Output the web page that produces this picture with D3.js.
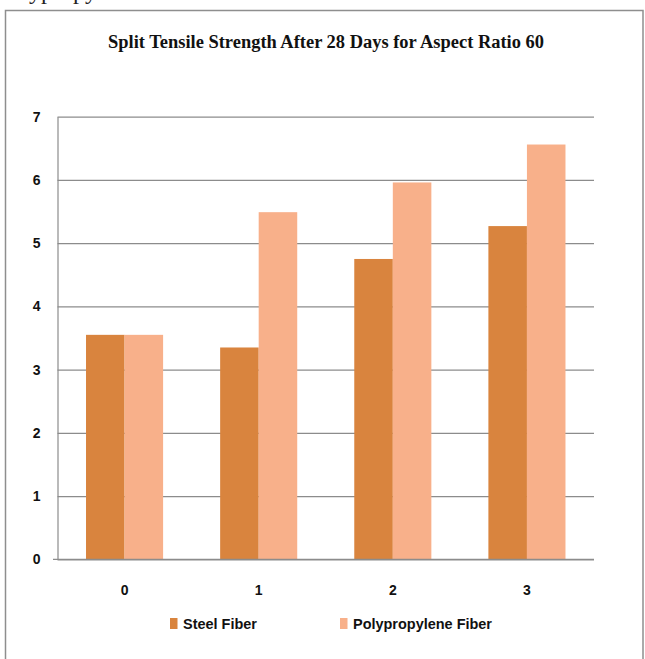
<!DOCTYPE html>
<html><head><meta charset="utf-8">
<script src="https://cdn.jsdelivr.net/npm/d3@7"></script>
<style>html,body{margin:0;padding:0;background:#fff;overflow:hidden}</style>
</head><body>
<svg id="c" width="645" height="659"></svg>
<script>
const categories = ["0", "1", "2", "3"];
const seriesNames = ["Steel Fiber", "Polypropylene Fiber"];
const steelFiber = [3.55, 3.35, 4.75, 5.27];
const polypropyleneFiber = [3.55, 5.49, 5.96, 6.56];
const yTicks = [0, 1, 2, 3, 4, 5, 6, 7];
const title = "Split Tensile Strength After 28 Days for Aspect Ratio 60";
const colors = ["#D9843E", "#F8B08A"];

const svg = d3.select("#c");
const m = {left: 57.5, right: 594, top: 116.7, bottom: 559.3};

// cropped text from above the chart (cut off in the reference too)
svg.append("text").attr("x", -3).attr("y", -1)
  .attr("font-family", "Liberation Serif").attr("font-size", 24)
  .attr("fill", "#222").text("Polypropylene");

// chart frame
svg.append("rect").attr("x", 5.5).attr("y", 10.5).attr("width", 637.5).attr("height", 660)
  .attr("fill", "#fff").attr("stroke", "#8e8e8e").attr("stroke-width", 1.5);

svg.append("text").attr("x", 326).attr("y", 48)
  .attr("text-anchor", "middle")
  .attr("font-family", "Liberation Serif").attr("font-weight", "bold").attr("font-size", 18)
  .attr("textLength", 436).attr("lengthAdjust", "spacingAndGlyphs")
  .attr("fill", "#111").text(title);

const x = d3.scaleBand().domain(categories).range([m.left, m.right]).padding(0);
const y = d3.scaleLinear().domain([0, 7]).range([m.bottom, m.top]);

// gridlines
const grid = svg.append("g").attr("transform", `translate(${m.left},0)`)
  .call(d3.axisLeft(y).tickValues(yTicks).tickSize(-(m.right - m.left)).tickFormat(""));
grid.select(".domain").remove();
grid.selectAll("line").attr("stroke", "#8c8c8c").attr("stroke-width", 1.2);

// y labels
const yl = svg.append("g").attr("transform", `translate(${m.left},0)`)
  .call(d3.axisLeft(y).tickValues(yTicks).tickSize(0).tickPadding(17).tickFormat(d3.format("d")));
yl.select(".domain").attr("stroke", "#8c8c8c").attr("stroke-width", 1.2);
yl.selectAll("text").attr("font-family", "Liberation Sans").attr("font-weight", "bold")
  .attr("font-size", 14).attr("fill", "#111");

// bars
const inner = d3.scaleBand().domain(seriesNames).range([0, x.bandwidth()]).paddingInner(0).paddingOuter(0.74);
const data = categories.map((c, i) => ({c, vals: [steelFiber[i], polypropyleneFiber[i]]}));
const groups = svg.append("g").selectAll("g").data(data).join("g")
  .attr("transform", d => `translate(${x(d.c)},0)`);
groups.selectAll("rect").data(d => d.vals.map((v, j) => ({v, s: seriesNames[j], j})))
  .join("rect")
  .attr("x", d => inner(d.s)).attr("width", inner.bandwidth())
  .attr("y", d => y(d.v)).attr("height", d => y(0) - y(d.v))
  .attr("fill", d => colors[d.j]);

// x axis
const xa = svg.append("g").attr("transform", `translate(0,${m.bottom})`)
  .call(d3.axisBottom(x).tickSize(0).tickPadding(26));
xa.select(".domain").remove();
svg.append("line").attr("x1", 53).attr("x2", m.right).attr("y1", m.bottom).attr("y2", m.bottom)
  .attr("stroke", "#8c8c8c").attr("stroke-width", 1.3);
xa.selectAll("text").attr("font-family", "Liberation Sans").attr("font-weight", "bold")
  .attr("font-size", 14).attr("fill", "#111");

// legend
const legendX = [170, 340];
const legendW = [74, 139];
const lg = svg.append("g").selectAll("g").data(seriesNames).join("g")
  .attr("transform", (d, i) => `translate(${legendX[i]},618)`);
lg.append("rect").attr("width", 7.5).attr("height", 11).attr("fill", (d, i) => colors[i]);
lg.append("text").attr("x", 13).attr("y", 10.8)
  .attr("font-family", "Liberation Sans").attr("font-weight", "bold").attr("font-size", 14)
  .attr("textLength", (d, i) => legendW[i]).attr("lengthAdjust", "spacingAndGlyphs")
  .attr("fill", "#111").text(d => d);
</script>
</body></html>
